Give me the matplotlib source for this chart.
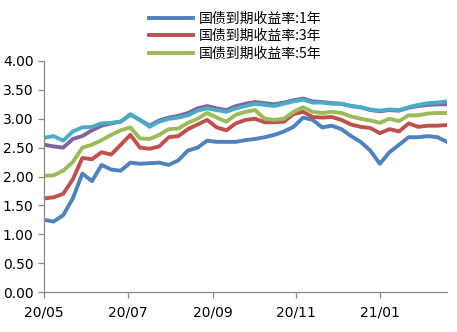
import pandas as pd
import numpy as np
import matplotlib
matplotlib.use('Agg')
import matplotlib.pyplot as plt
import matplotlib.dates as mdates
from matplotlib.ticker import FormatStrFormatter

# weekly samples, 2020-05-01 .. 2021-02-19
dates = pd.date_range('2020-05-01', periods=43, freq='7D')

y1 = [1.25, 1.22, 1.33, 1.62, 2.05, 1.92, 2.20, 2.12, 2.10, 2.24,
      2.22, 2.23, 2.24, 2.20, 2.28, 2.45, 2.50, 2.62, 2.60, 2.60,
      2.60, 2.63, 2.65, 2.68, 2.72, 2.78, 2.86, 3.02, 2.98, 2.85,
      2.88, 2.82, 2.70, 2.60, 2.45, 2.22, 2.42, 2.55, 2.68, 2.68,
      2.70, 2.68, 2.60]
y3 = [1.62, 1.64, 1.70, 1.95, 2.32, 2.30, 2.42, 2.38, 2.55, 2.72,
      2.50, 2.48, 2.52, 2.68, 2.70, 2.82, 2.90, 2.98, 2.85, 2.80,
      2.92, 2.98, 3.00, 2.94, 2.94, 2.95, 3.08, 3.12, 3.03, 3.02,
      3.03, 2.98, 2.90, 2.86, 2.84, 2.75, 2.82, 2.78, 2.92, 2.86,
      2.88, 2.88, 2.89]
y5 = [2.01, 2.02, 2.10, 2.25, 2.50, 2.55, 2.63, 2.72, 2.80, 2.85,
      2.66, 2.65, 2.72, 2.82, 2.83, 2.93, 3.00, 3.10, 3.02, 2.95,
      3.07, 3.12, 3.15, 3.00, 2.98, 3.00, 3.12, 3.20, 3.12, 3.10,
      3.12, 3.10, 3.04, 3.00, 2.97, 2.93, 3.00, 2.96, 3.06, 3.06,
      3.09, 3.10, 3.10]
y7 = [2.55, 2.52, 2.50, 2.65, 2.70, 2.80, 2.88, 2.92, 2.95, 3.07,
      2.98, 2.88, 2.97, 3.02, 3.05, 3.10, 3.18, 3.22, 3.18, 3.15,
      3.22, 3.26, 3.29, 3.27, 3.25, 3.28, 3.32, 3.35, 3.30, 3.29,
      3.27, 3.26, 3.22, 3.20, 3.15, 3.13, 3.15, 3.14, 3.19, 3.22,
      3.24, 3.25, 3.25]
y10 = [2.67, 2.70, 2.62, 2.78, 2.85, 2.86, 2.92, 2.93, 2.95, 3.08,
       2.98, 2.86, 2.95, 3.00, 3.02, 3.06, 3.14, 3.18, 3.15, 3.12,
       3.18, 3.22, 3.26, 3.24, 3.22, 3.26, 3.30, 3.33, 3.28, 3.28,
       3.26, 3.26, 3.22, 3.20, 3.16, 3.14, 3.16, 3.15, 3.20, 3.24,
       3.27, 3.28, 3.30]

labels = ['国债到期收益率:1年', '国债到期收益率:3年', '国债到期收益率:5年',
          '国债到期收益率:7年', '国债到期收益率:10年']
colors = ['#4F81BD', '#C0504D', '#9BBB59', '#8064A2', '#4BACC6']
xtick_dates = pd.to_datetime(['2020-05-01', '2020-07-01', '2020-09-01',
                              '2020-11-01', '2021-01-01'])

plt.rcParams['font.family'] = ['DejaVu Sans']

fig = plt.figure(figsize=(4.57, 3.32), dpi=100)
ax = fig.add_axes([44 / 457, 1 - 292 / 332, 403 / 457, 231 / 332])

lines = []
for ys, c, lab in zip([y1, y3, y5, y7, y10], colors, labels):
    ln, = ax.plot(dates, ys, color=c, lw=2.8, label=lab, solid_joinstyle='round')
    lines.append(ln)

ax.set_ylim(0, 4)
ax.set_yticks(np.arange(0, 4.01, 0.5))
ax.yaxis.set_major_formatter(FormatStrFormatter('%.2f'))
ax.set_xlim(pd.Timestamp('2020-05-01'), pd.Timestamp('2021-02-19'))
ax.set_xticks(xtick_dates)
ax.xaxis.set_major_formatter(mdates.DateFormatter('%y/%m'))

for s in ['top', 'right']:
    ax.spines[s].set_visible(False)
for s in ['left', 'bottom']:
    ax.spines[s].set_color('#888888')
    ax.spines[s].set_linewidth(0.9)
ax.tick_params(axis='both', colors='#888888', length=4, width=0.9,
               labelcolor='black', labelsize=10)
ax.tick_params(axis='x', pad=6)

# only the first three entries are visible in the original legend
fig.legend(handles=lines[:3], labels=labels[:3], loc='upper center',
           bbox_to_anchor=(0.515, 0.982), frameon=False, ncol=1,
           prop={'family': ['Noto Sans CJK SC', 'DejaVu Sans'], 'size': 10},
           handlelength=3.2, handletextpad=0.4, labelspacing=0.26,
           borderaxespad=0.0)

plt.savefig('out.png', dpi=100)
